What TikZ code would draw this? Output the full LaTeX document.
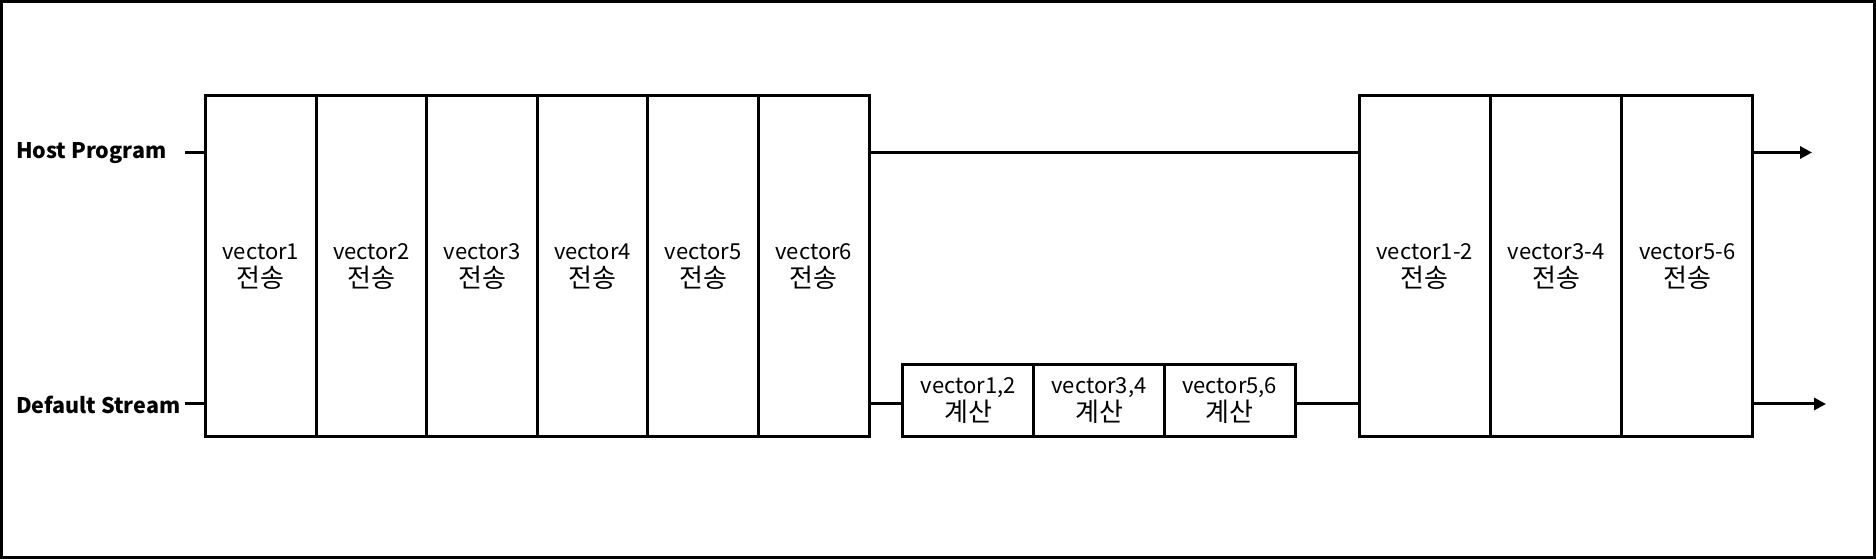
\documentclass[tikz,border=0pt]{standalone}
\usepackage{fontspec}
\setmainfont{Noto Sans CJK KR}
\usetikzlibrary{arrows.meta}
\newcommand{\kr}[1]{{\fontsize{26}{28}\selectfont #1}}
\begin{document}
\begin{tikzpicture}[x=1pt,y=1pt,
  cell/.style={draw,line width=3pt,inner sep=0pt,align=center,font=\fontsize{22}{28}\selectfont},
  tall/.style={cell,minimum width=110.6pt,minimum height=341.5pt},
  wide/.style={cell,minimum width=131.3pt,minimum height=341.5pt},
  small/.style={cell,minimum width=130.7pt,minimum height=72pt},
  lbl/.style={inner sep=0pt,anchor=west,font=\fontsize{21.5}{25}\selectfont\bfseries},
  conn/.style={line width=3pt},
  arr/.style={conn,-{Triangle[length=12pt,width=12pt]}}]
\useasboundingbox (0,0) rectangle (1876,559);
\draw[line width=3pt] (1.5,1.5) rectangle (1874.5,557.5);
% left transfer block
\node[tall] (v1) at (260.8,292.75) {vector1\\\kr{전송}};
\node[tall] (v2) at (371.4,292.75) {vector2\\\kr{전송}};
\node[tall] (v3) at (482.0,292.75) {vector3\\\kr{전송}};
\node[tall] (v4) at (592.6,292.75) {vector4\\\kr{전송}};
\node[tall] (v5) at (703.2,292.75) {vector5\\\kr{전송}};
\node[tall] (v6) at (813.8,292.75) {vector6\\\kr{전송}};
% compute blocks
\node[small] (c1) at (968.3,158) {vector1,2\\\kr{계산}};
\node[small] (c2) at (1099.0,158) {vector3,4\\\kr{계산}};
\node[small] (c3) at (1229.7,158) {vector5,6\\\kr{계산}};
% right transfer block
\node[wide] (w1) at (1424.7,292.75) {vector1-2\\\kr{전송}};
\node[wide] (w2) at (1556.0,292.75) {vector3-4\\\kr{전송}};
\node[wide] (w3) at (1687.3,292.75) {vector5-6\\\kr{전송}};
% labels
\node[lbl] (hp) at (16,405.5) {Host Program};
\node[lbl] (dsl) at (16,154) {Default Stream};
% timeline coordinates
\coordinate (hs) at (185,406.5);
\coordinate (he) at (1812,406.5);
\coordinate (ds) at (185,155);
\coordinate (de) at (1826,155);
% host line
\draw[conn] (hs) -- (hs -| v1.west);
\draw[conn] (v6.east |- hs) -- (w1.west |- hs);
\draw[arr] (w3.east |- he) -- (he);
% default stream line
\draw[conn] (ds) -- (ds -| v1.west);
\draw[conn] (v6.east |- ds) -- (c1.west |- ds);
\draw[conn] (c3.east |- ds) -- (w1.west |- ds);
\draw[arr] (w3.east |- de) -- (de);
\end{tikzpicture}
\end{document}
